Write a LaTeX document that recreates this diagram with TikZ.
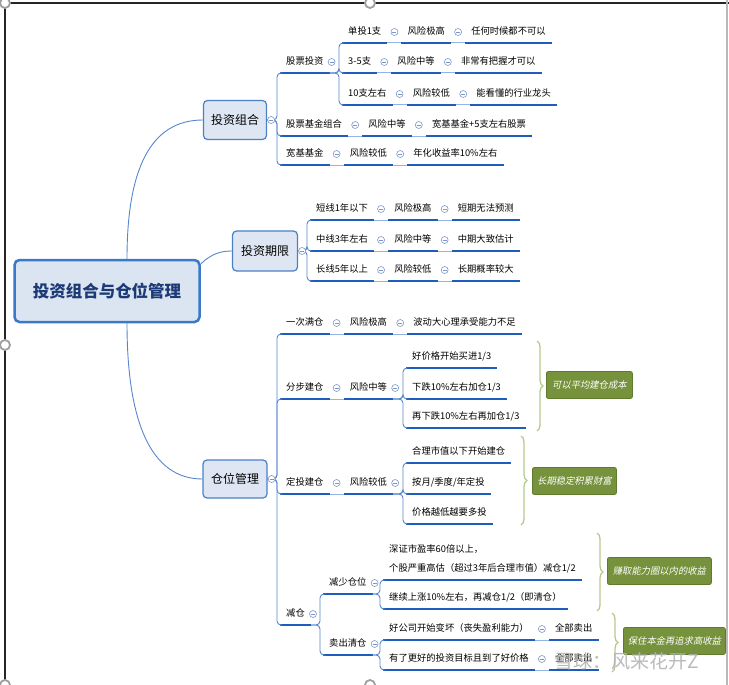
\documentclass[tikz,border=0pt]{standalone}
\usepackage{fontspec}
\setmainfont{Noto Sans CJK SC}
\newfontfamily\slantfont{Noto Sans CJK SC}[FakeSlant=0.2]
\usetikzlibrary{calc,decorations.pathreplacing}
\definecolor{ulc}{RGB}{30,92,190}
\definecolor{cnc}{RGB}{86,135,205}
\definecolor{chc}{RGB}{150,180,225}
\definecolor{hdc}{RGB}{125,150,200}
\definecolor{rootfill}{RGB}{219,229,241}
\definecolor{rootdraw}{RGB}{58,120,200}
\definecolor{roottext}{RGB}{28,58,118}
\definecolor{lonefill}{RGB}{221,230,242}
\definecolor{lonedraw}{RGB}{75,128,197}
\definecolor{brc}{RGB}{182,201,140}
\definecolor{sumfill}{RGB}{118,146,60}
\definecolor{sumdraw}{RGB}{96,122,44}
\tikzset{
  topicbase/.style={anchor=south west, inner xsep=6pt, inner ysep=5pt, text depth=3.5pt, font=\fontsize{9.3}{11}\selectfont},
  topic/.style={topicbase, text height=8.5pt},
  uline/.style={ulc, line width=2.2pt},
  chainln/.style={chc, line width=1pt},
  conn/.style={cnc, line width=0.9pt, rounded corners=4pt},
  rootconn/.style={cnc, line width=0.9pt},
  hdl/.style={circle, draw=hdc, fill=white, line width=0.6pt, minimum size=7pt, inner sep=0pt,
    path picture={\draw[hdc, line width=0.6pt] ([xshift=-2pt]path picture bounding box.center) -- ([xshift=2pt]path picture bounding box.center);}},
  lonebox/.style={draw=lonedraw, fill=lonefill, line width=1.2pt, rounded corners=4pt, minimum width=63pt, minimum height=39pt, inner sep=0pt, font=\fontsize{12}{14}\selectfont},
  rootbox/.style={draw=rootdraw, fill=rootfill, line width=2.5pt, rounded corners=5pt, minimum width=185pt, minimum height=62pt, inner sep=0pt, font=\fontsize{16.5}{18}\selectfont\bfseries, text=roottext},
  bracel/.style={brc, line width=1.3pt, decorate, decoration={brace, amplitude=6pt}},
  sumbox/.style={anchor=west, draw=sumdraw, fill=sumfill, line width=0.8pt, rounded corners=2pt, minimum height=27pt, inner sep=0pt, text=white, font=\fontsize{9.3}{11}\slantfont},
  framehdl/.style={circle, draw=gray!75, fill=white, line width=1.8pt, minimum size=10pt, inner sep=0pt}
}
\newcommand\tnode[3]{%
  \node[topic] (#1) at (#2) {#3};
  \draw[uline] (#1.south west) -- (#1.south east);}
\newcommand\tnext[3]{%
  \node[topic] (#2) at ($(#1.south east)+(14pt,0pt)$) {#3};
  \draw[uline] (#2.south west) -- (#2.south east);
  \draw[chainln] (#1.south east) -- (#2.south west);
  \node[hdl] (#2-h) at ($(#1.south east)!.5!(#2.south west)+(0pt,11pt)$) {};}
\newcommand\tailhdl[1]{\node[hdl] (#1-h) at ($(#1.south east)+(2pt,11pt)$) {};}
\begin{document}
\begin{tikzpicture}[x=1pt,y=-1pt]
\useasboundingbox (0,0) rectangle (729,685);
% frame
\coordinate (fa) at (5,3);
\coordinate (fb) at (729,3);
\coordinate (fc) at (5,685);
\coordinate (fd) at (727,0);
\coordinate (fe) at (727,685);
\draw[black!85, line width=1.2pt] (fa) -- (fb);
\draw[black!85, line width=1.2pt] (fa) -- (fc);
\draw[gray!55, line width=1.5pt] (fd) -- (fe);
\node[framehdl] (fh1) at (5,3) {};
\node[framehdl] (fh2) at (370,3) {};
\node[framehdl] (fh3) at (5,345) {};
\node[framehdl] (fh4) at (5,685) {};
\node[framehdl] (fh5) at (370,685) {};

% root and level 1
\node[rootbox] (root) at (107,291) {投资组合与仓位管理};
\node[lonebox] (t1) at (235,120) {投资组合};
\node[lonebox, minimum width=65pt, minimum height=40pt] (t2) at (265,251) {投资期限};
\node[lonebox, minimum width=64pt, minimum height=38pt] (t3) at (235,479) {仓位管理};
\draw[rootconn] ([xshift=20pt]root.north) .. controls (127,170) and (150,120) .. (t1.west);
\draw[rootconn] ([xshift=20pt]root.south) .. controls (127,420) and (150,479) .. (t3.west);
\draw[rootconn] ([yshift=27pt]root.east) .. controls (212,253) and (222,251) .. (t2.west);

% tree 1
\tnode{a1}{280,73}{股票投资}
\tnode{r1a}{342,43}{单投1支} \tnext{r1a}{r1b}{风险极高} \tnext{r1b}{r1c}{任何时候都不可以}
\tnode{r2a}{342,73}{3-5支} \tnext{r2a}{r2b}{风险中等} \tnext{r2b}{r2c}{非常有把握才可以}
\tnode{r3a}{342,105}{10支左右} \tnext{r3a}{r3b}{风险较低} \tnext{r3b}{r3c}{能看懂的行业龙头}
\tnode{a2}{280,136}{股票基金组合} \tnext{a2}{a2b}{风险中等} \tnext{a2b}{a2c}{宽基基金+5支左右股票}
\tnode{a3}{280,165}{宽基基金} \tnext{a3}{a3b}{风险较低} \tnext{a3b}{a3c}{年化收益率10\%左右}
\foreach \c in {a1,a2,a3} {\draw[conn] (t1.east) -| ([xshift=-3pt]\c.south west) -- (\c.south west);}
\foreach \c in {r1a,r2a,r3a} {\draw[conn] (a1.south east) -| ([xshift=-3pt]\c.south west) -- (\c.south west);}
\tailhdl{a1}

% tree 2
\tnode{b1}{310,220}{短线1年以下} \tnext{b1}{b1b}{风险极高} \tnext{b1b}{b1c}{短期无法预测}
\tnode{b2}{310,251}{中线3年左右} \tnext{b2}{b2b}{风险中等} \tnext{b2b}{b2c}{中期大致估计}
\tnode{b3}{310,281}{长线5年以上} \tnext{b3}{b3b}{风险较低} \tnext{b3b}{b3c}{长期概率较大}
\foreach \c in {b1,b2,b3} {\draw[conn] (t2.east) -| ([xshift=-3pt]\c.south west) -- (\c.south west);}

% tree 3
\tnode{c1}{280,334}{一次满仓} \tnext{c1}{c1b}{风险极高} \tnext{c1b}{c1c}{波动大心理承受能力不足}
\tnode{c2}{280,399}{分步建仓} \tnext{c2}{c2b}{风险中等}
\tnode{e1}{406,368}{好价格开始买进1/3}
\tnode{e2}{406,399}{下跌10\%左右加仓1/3}
\tnode{e3}{406,428}{再下跌10\%左右再加仓1/3}
\tnode{c3}{280,494}{定投建仓} \tnext{c3}{c3b}{风险较低}
\tnode{f1}{406,463}{合理市值以下开始建仓}
\tnode{f2}{406,494}{按月/季度/年定投}
\tnode{f3}{406,524}{价格越低越要多投}
\tnode{c4}{280,625}{减仓}
\tnode{d1}{323,594}{减少仓位}
\tnode{d2}{323,655}{卖出清仓}
\node[topicbase, font=\fontsize{9.3}{19}\selectfont] (g1) at (383,580) {\begin{tabular}[b]{@{}l@{}}深证市盈率60倍以上，\\个股严重高估（超过3年后合理市值）减仓1/2\end{tabular}};
\draw[uline] (g1.south west) -- (g1.south east);
\tnode{g2}{383,609}{继续上涨10\%左右，再减仓1/2（即清仓）}
\tnode{k1}{383,640}{好公司开始变坏（丧失盈利能力）} \tnext{k1}{k1b}{全部卖出}
\tnode{k2}{383,670}{有了更好的投资目标且到了好价格} \tnext{k2}{k2b}{全部卖出}

\foreach \c in {c1,c2,c3,c4} {\draw[conn] (t3.east) -| ([xshift=-3pt]\c.south west) -- (\c.south west);}
\foreach \c in {e1,e2,e3} {\draw[conn] (c2b.south east) -| ([xshift=-3pt]\c.south west) -- (\c.south west);}
\foreach \c in {f1,f2,f3} {\draw[conn] (c3b.south east) -| ([xshift=-3pt]\c.south west) -- (\c.south west);}
\foreach \c in {d1,d2} {\draw[conn] (c4.south east) -| ([xshift=-3pt]\c.south west) -- (\c.south west);}
\foreach \c in {g1,g2} {\draw[conn] (d1.south east) -| ([xshift=-3pt]\c.south west) -- (\c.south west);}
\foreach \c in {k1,k2} {\draw[conn] (d2.south east) -| ([xshift=-3pt]\c.south west) -- (\c.south west);}
\tailhdl{c2b} \tailhdl{c3b} \tailhdl{c4} \tailhdl{d1} \tailhdl{d2}

% level 1 handles
\node[hdl] (t1-h) at ([xshift=4pt]t1.east) {};
\node[hdl] (t2-h) at ([xshift=4pt]t2.east) {};
\node[hdl] (t3-h) at ([xshift=4pt]t3.east) {};

% braces and summaries
\coordinate (bz1a) at (537,341); \coordinate (bz1b) at (537,431);
\coordinate (bz2a) at (521,436); \coordinate (bz2b) at (521,525);
\coordinate (bz3a) at (597,533); \coordinate (bz3b) at (597,611);
\coordinate (bz4a) at (612,613); \coordinate (bz4b) at (612,672);
\draw[bracel] (bz1a) -- (bz1b);
\draw[bracel] (bz2a) -- (bz2b);
\draw[bracel] (bz3a) -- (bz3b);
\draw[bracel] (bz4a) -- (bz4b);
\node[sumbox, minimum width=86pt] (s1) at (546,385) {可以平均建仓成本};
\node[sumbox, minimum width=84pt] (s2) at (532,481) {长期稳定积累财富};
\node[sumbox, minimum width=104pt] (s3) at (607,571) {赚取能力圈以内的收益};
\node[sumbox, minimum width=102pt] (s4) at (623,641) {保住本金再追求高收益};

% watermark
\node[text=gray!60, opacity=0.9, font=\fontsize{19}{19}\selectfont, inner sep=0pt] (wm) at (627,661) {雪球：风来花开Z};
\end{tikzpicture}
\end{document}
